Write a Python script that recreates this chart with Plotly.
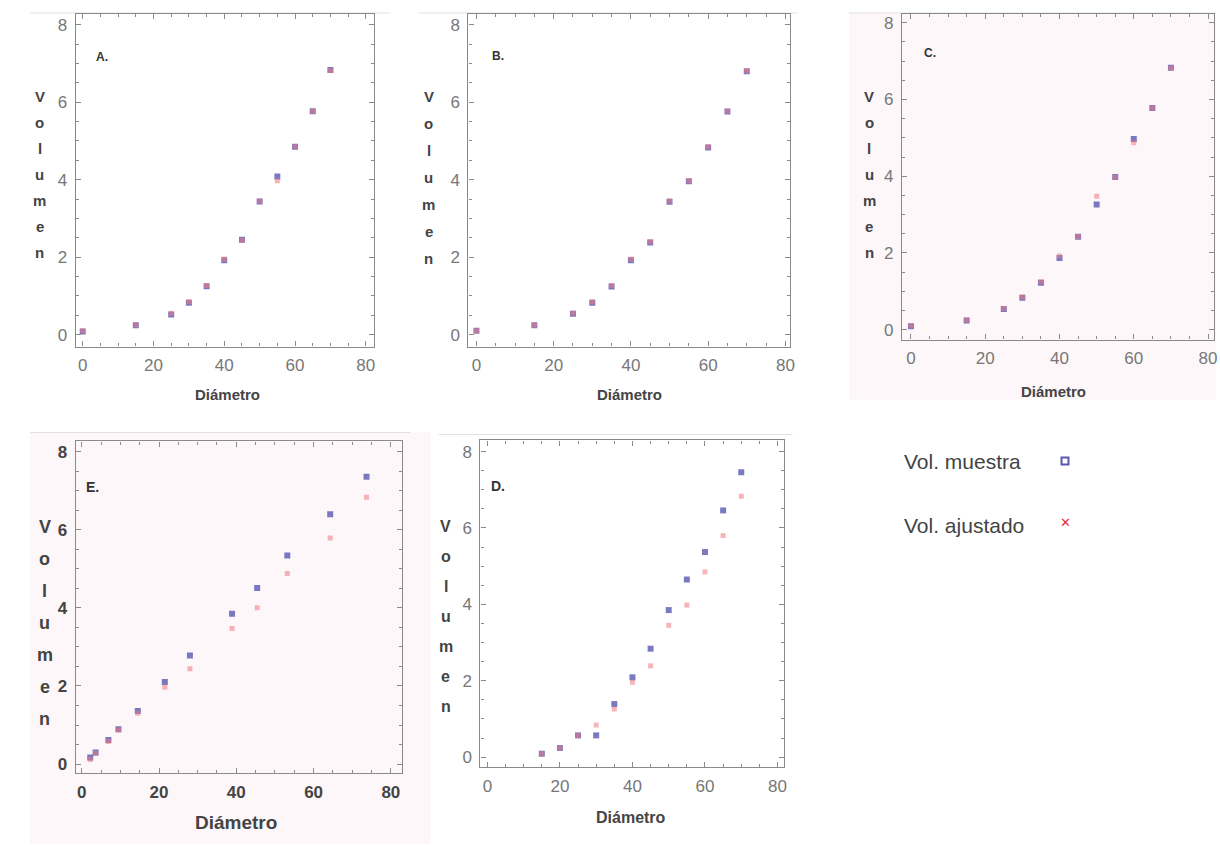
import plotly.graph_objects as go

W, H = 1220, 845

# ---------------- data ----------------
diam_std = [0, 15, 25, 30, 35, 40, 45, 50, 55, 60, 65, 70]

a_muestra = [0.08, 0.24, 0.52, 0.82, 1.25, 1.92, 2.45, 3.44, 4.08, 4.85, 5.77, 6.83]
a_ajustado = [0.1, 0.25, 0.55, 0.85, 1.27, 1.95, 2.43, 3.45, 3.97, 4.85, 5.77, 6.82]

b_muestra = [0.1, 0.24, 0.54, 0.82, 1.24, 1.92, 2.38, 3.43, 3.96, 4.83, 5.76, 6.8]
b_ajustado = [0.1, 0.25, 0.55, 0.85, 1.27, 1.95, 2.40, 3.45, 3.97, 4.85, 5.77, 6.82]

c_muestra = [0.09, 0.24, 0.54, 0.83, 1.22, 1.87, 2.42, 3.26, 3.98, 4.97, 5.78, 6.83]
c_ajustado = [0.1, 0.25, 0.55, 0.85, 1.25, 1.92, 2.43, 3.48, 3.97, 4.87, 5.77, 6.82]

e_diam = [2.2, 3.6, 6.9, 9.5, 14.5, 21.5, 28.0, 38.9, 45.4, 53.2, 64.3, 73.7]
e_muestra = [0.17, 0.3, 0.62, 0.89, 1.36, 2.1, 2.78, 3.85, 4.51, 5.34, 6.4, 7.36]
e_ajustado = [0.12, 0.27, 0.58, 0.87, 1.3, 1.97, 2.44, 3.47, 4.0, 4.88, 5.79, 6.83]

d_diam = [15, 20, 25, 30, 35, 40, 45, 50, 55, 60, 65, 70]
d_muestra = [0.09, 0.24, 0.57, 0.57, 1.39, 2.09, 2.84, 3.85, 4.65, 5.37, 6.46, 7.46]
d_ajustado = [0.09, 0.24, 0.57, 0.84, 1.26, 1.96, 2.39, 3.45, 3.98, 4.85, 5.8, 6.83]

x_ticks = [0, 20, 40, 60, 80]
y_ticks = [0, 2, 4, 6, 8]
panel_labels = ["A.", "B.", "C.", "E.", "D."]
legend_labels = ["Vol. muestra", "Vol. ajustado"]
x_title = "Diámetro"
y_title = "Volumen"

# ---------------- layout geometry (pixels) ----------------
panels = [
    dict(l=76, r=375, t=14, b=347, xr=[-1.97, 82.25], yr=[-0.31, 8.28],
         x=diam_std, m=a_muestra, a=a_ajustado,
         lab=(102, 57, 12), xt=(228, 395, 15), yt=(40, 97, 26, 15), tick=dict(size=17, color="#777", bold=False)),
    dict(l=470, r=793, t=14, b=347, xr=[-2.06, 81.3], yr=[-0.31, 8.28],
         x=diam_std, m=b_muestra, a=b_ajustado,
         lab=(500, 56, 12), xt=(632, 395, 15), yt=(430, 97, 27, 15), tick=dict(size=17, color="#777", bold=False)),
    dict(l=905, r=1218, t=14, b=340, xr=[-2.4, 81.6], yr=[-0.26, 8.23],
         x=diam_std, m=c_muestra, a=c_ajustado,
         lab=(933, 53, 12), xt=(1057, 392, 15), yt=(872, 97, 26, 15), tick=dict(size=17, color="#777", bold=False)),
    dict(l=76, r=403, t=442, b=774, xr=[-1.55, 82.8], yr=[-0.23, 8.26],
         x=e_diam, m=e_muestra, a=e_ajustado,
         lab=(93, 488, 14), xt=(237, 823, 19), yt=(45, 528, 32, 18), tick=dict(size=17, color="#444", bold=True)),
    dict(l=482, r=787, t=441, b=768, xr=[-1.92, 81.9], yr=[-0.26, 8.29],
         x=d_diam, m=d_muestra, a=d_ajustado,
         lab=(500, 487, 14), xt=(633, 818, 16), yt=(447, 527, 30, 16), tick=dict(size=17, color="#777", bold=False)),
]

def px(xp):
    return xp / W

def py(yp):
    return 1 - yp / H

fig = go.Figure()
annotations = []
shapes = []

shapes.append(dict(type="rect", xref="paper", yref="paper", x0=px(852), x1=px(1220), y0=py(400), y1=py(13),
                   fillcolor="#fdf7f9", line=dict(width=0), layer="below"))
shapes.append(dict(type="rect", xref="paper", yref="paper", x0=px(30), x1=px(432), y0=py(845), y1=py(433),
                   fillcolor="#fdf7f9", line=dict(width=0), layer="below"))
for (x0, x1, y) in [(30, 392, 13), (420, 800, 13), (852, 1220, 13), (30, 412, 433), (440, 795, 435)]:
    shapes.append(dict(type="line", xref="paper", yref="paper", x0=px(x0), x1=px(x1), y0=py(y), y1=py(y),
                       line=dict(color="#e2e2e2", width=1), layer="below"))

for i, p in enumerate(panels, start=1):
    xa = "x" if i == 1 else f"x{i}"
    ya = "y" if i == 1 else f"y{i}"
    fig.add_trace(go.Scatter(x=p["x"], y=p["m"], mode="markers", xaxis=xa, yaxis=ya, showlegend=False,
                             marker=dict(symbol="square", size=6, color="rgba(85,85,175,0.78)",
                                         line=dict(width=0))))
    fig.add_trace(go.Scatter(x=p["x"], y=p["a"], mode="markers", xaxis=xa, yaxis=ya, showlegend=False,
                             marker=dict(symbol="square", size=5, color="rgba(240,120,130,0.55)",
                                         line=dict(width=0))))
    tf = p["tick"]
    tickfont = dict(size=tf["size"], color=tf["color"], family="Liberation Sans",
                    weight="bold" if tf["bold"] else "normal")
    axcommon = dict(showline=True, mirror="ticks", linecolor="#8a8a8a", linewidth=1.2,
                    ticks="inside", ticklen=5, tickcolor="#8a8a8a", showgrid=False, zeroline=False,
                    tickfont=tickfont, fixedrange=True)
    xkey = "xaxis" if i == 1 else f"xaxis{i}"
    ykey = "yaxis" if i == 1 else f"yaxis{i}"
    fig.update_layout(**{
        xkey: dict(domain=[px(p["l"]), px(p["r"])], anchor=ya, range=p["xr"], tickvals=x_ticks,
                   minor=dict(ticks="inside", ticklen=3, dtick=5, tick0=0, tickcolor="#8a8a8a"),
                   ticklabelstandoff=3, **axcommon),
        ykey: dict(domain=[py(p["b"]), py(p["t"])], anchor=xa, range=p["yr"], tickvals=y_ticks,
                   minor=dict(ticks="inside", ticklen=3, dtick=0.5, tick0=0, tickcolor="#8a8a8a"),
                   ticklabelstandoff=4, **axcommon),
    })
    lx, ly, ls = p["lab"]
    annotations.append(dict(text=panel_labels[i - 1], xref="paper", yref="paper", x=px(lx), y=py(ly),
                            showarrow=False, xanchor="center", yanchor="middle",
                            font=dict(size=ls, color="#333", family="Liberation Sans", weight="bold")))
    tx, ty, ts = p["xt"]
    annotations.append(dict(text=x_title, xref="paper", yref="paper", x=px(tx), y=py(ty),
                            showarrow=False, xanchor="center", yanchor="middle",
                            font=dict(size=ts, color="#444", family="Liberation Sans", weight="bold")))
    vx, vy0, vstep, vs = p["yt"]
    for k, ch in enumerate(y_title):
        annotations.append(dict(text=ch, xref="paper", yref="paper", x=px(vx), y=py(vy0 + k * vstep),
                                showarrow=False, xanchor="center", yanchor="middle",
                                font=dict(size=vs, color="#444", family="Liberation Sans", weight="bold")))

annotations.append(dict(text=legend_labels[0], xref="paper", yref="paper", x=px(905), y=py(462),
                        showarrow=False, xanchor="left", yanchor="middle",
                        font=dict(size=21, color="#444", family="Liberation Sans")))
annotations.append(dict(text=legend_labels[1], xref="paper", yref="paper", x=px(905), y=py(526),
                        showarrow=False, xanchor="left", yanchor="middle",
                        font=dict(size=21, color="#444", family="Liberation Sans")))
shapes.append(dict(type="rect", xref="paper", yref="paper", x0=px(1065), x1=px(1072), y0=py(465), y1=py(458),
                   line=dict(color="#5a5ab0", width=2), fillcolor="rgba(0,0,0,0)"))
annotations.append(dict(text="✕", xref="paper", yref="paper", x=px(1069), y=py(523),
                        showarrow=False, xanchor="center", yanchor="middle",
                        font=dict(size=13, color="#e0303a", family="DejaVu Sans", weight="bold")))

fig.update_layout(width=W, height=H, margin=dict(l=0, r=0, t=0, b=0),
                  paper_bgcolor="white", plot_bgcolor="rgba(0,0,0,0)",
                  annotations=annotations, shapes=shapes, showlegend=False)

fig.write_html("out.html", config={"displayModeBar": False},
               post_script="document.body.style.margin='0';document.body.style.overflow='hidden';")
